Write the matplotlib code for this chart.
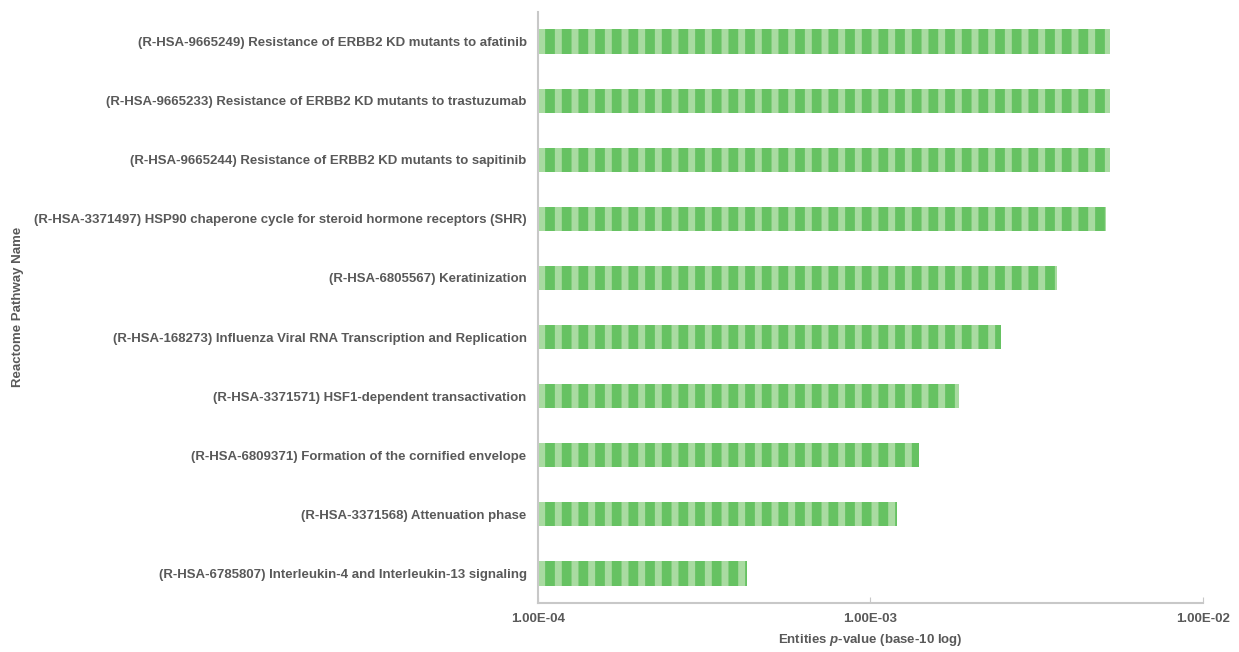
import matplotlib.pyplot as plt
from matplotlib.ticker import FixedLocator

plt.rcParams['font.family'] = ['Liberation Sans', 'DejaVu Sans']
plt.rcParams['mathtext.fontset'] = 'custom'
plt.rcParams['mathtext.it'] = 'Liberation Sans:italic:bold'
plt.rcParams['mathtext.rm'] = 'Liberation Sans:bold'
plt.rcParams['hatch.linewidth'] = 5

pathways = [
    '(R-HSA-9665249) Resistance of ERBB2 KD mutants to afatinib',
    '(R-HSA-9665233) Resistance of ERBB2 KD mutants to trastuzumab',
    '(R-HSA-9665244) Resistance of ERBB2 KD mutants to sapitinib',
    '(R-HSA-3371497) HSP90 chaperone cycle for steroid hormone receptors (SHR)',
    '(R-HSA-6805567) Keratinization',
    '(R-HSA-168273) Influenza Viral RNA Transcription and Replication',
    '(R-HSA-3371571) HSF1-dependent transactivation',
    '(R-HSA-6809371) Formation of the cornified envelope',
    '(R-HSA-3371568) Attenuation phase',
    '(R-HSA-6785807) Interleukin-4 and Interleukin-13 signaling',
]
pvalues = [5.26e-3, 5.26e-3, 5.26e-3, 5.11e-3, 3.64e-3,
           2.47e-3, 1.85e-3, 1.40e-3, 1.20e-3, 4.27e-4]
xticks = [1e-4, 1e-3, 1e-2]
xticklabels = ['1.00E-04', '1.00E-03', '1.00E-02']

grey = '#595959'
fs = 9.5
fig = plt.figure(figsize=(12.39, 6.52), dpi=100)
ax = fig.add_axes([0.434, 0.0752, 0.537, 0.9064])

pos = list(range(len(pathways)))
base = 1e-4
ax.barh(pos, [v - base for v in pvalues], left=base, height=0.41,
        color='#66c262', edgecolor='#a9dba1', hatch='|', linewidth=0)

ax.set_xscale('log')
ax.set_xlim(1e-4, 1e-2)
ax.set_ylim(9.5, -0.5)
ax.xaxis.set_major_locator(FixedLocator(xticks))
ax.set_xticklabels(xticklabels)
ax.xaxis.set_minor_locator(FixedLocator([]))
ax.set_yticks(pos)
ax.set_yticklabels(pathways)

for s in ['top', 'right']:
    ax.spines[s].set_visible(False)
for s in ['left', 'bottom']:
    ax.spines[s].set_color('#c8c8c8')
    ax.spines[s].set_linewidth(1.5)

ax.tick_params(axis='y', length=0, pad=8, labelsize=fs, labelcolor=grey)
ax.tick_params(axis='x', direction='in', length=4, color='#c8c8c8',
               pad=7, labelsize=fs, labelcolor=grey)
for lab in ax.get_xticklabels() + ax.get_yticklabels():
    lab.set_fontweight('bold')

ax.set_xlabel('Entities $p$-value (base-10 log)', fontsize=fs,
              fontweight='bold', color=grey, labelpad=5)
fig.text(0.0145, 0.529, 'Reactome Pathway Name', rotation=90, fontsize=fs,
         fontweight='bold', color=grey, ha='center', va='center')

fig.savefig('out.png', dpi=100)
